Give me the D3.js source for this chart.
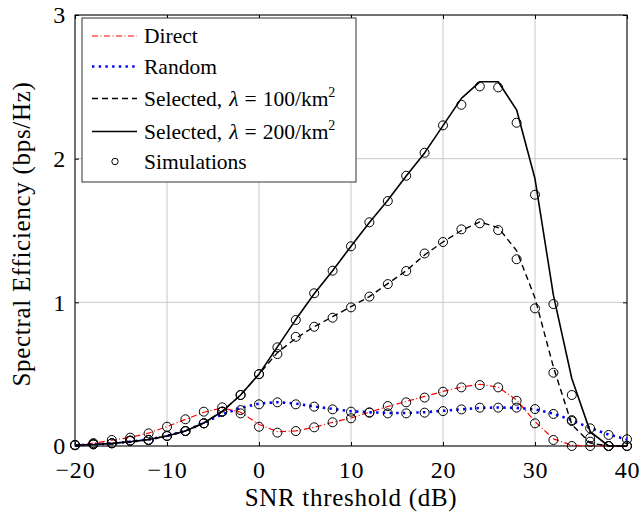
<!DOCTYPE html>
<html>
<head>
<meta charset="utf-8">
<script src="https://cdn.jsdelivr.net/npm/d3@7"></script>
<style>
  html, body { margin: 0; padding: 0; background: #fff; }
  svg { display: block; font-family: "Liberation Serif", "Times New Roman", serif; }
</style>
</head>
<body>
<svg id="chart" width="639" height="519"></svg>
<script>
// SNR threshold grid (dB)
const snr = [-20,-18,-16,-14,-12,-10,-8,-6,-4,-2,0,2,4,6,8,10,12,14,16,18,20,22,24,26,28,30,32,34,36,38,40];

// Analytical curves (bps/Hz)
const directLine = [0.005,0.02,0.04,0.06,0.09,0.135,0.185,0.235,0.265,0.235,0.15,0.1,0.105,0.13,0.165,0.195,0.235,0.275,0.31,0.345,0.38,0.41,0.43,0.41,0.32,0.17,0.05,0.005,0,0,0];
const randomLine = [0.005,0.01,0.018,0.03,0.045,0.07,0.105,0.16,0.22,0.265,0.295,0.305,0.295,0.275,0.258,0.242,0.235,0.23,0.23,0.235,0.245,0.255,0.265,0.268,0.265,0.255,0.225,0.18,0.125,0.08,0.045];
const sel100Line = [0.005,0.01,0.018,0.03,0.045,0.07,0.105,0.16,0.24,0.355,0.5,0.65,0.75,0.83,0.9,0.97,1.04,1.13,1.22,1.33,1.42,1.5,1.56,1.52,1.36,1.03,0.55,0.15,0.02,0,0];
const sel200Line = [0.005,0.01,0.018,0.03,0.045,0.07,0.105,0.16,0.24,0.355,0.5,0.69,0.88,1.06,1.22,1.39,1.555,1.71,1.88,2.04,2.23,2.42,2.535,2.535,2.34,1.86,1.05,0.47,0.1,0,0];

// Simulated points (bps/Hz)
const directSim = [0.005,0.02,0.042,0.058,0.088,0.134,0.186,0.239,0.269,0.227,0.134,0.093,0.104,0.13,0.165,0.193,0.234,0.278,0.304,0.337,0.378,0.408,0.424,0.408,0.315,0.158,0.042,0,0,0,0];
const randomSim = [0.007,0.012,0.019,0.037,0.042,0.07,0.104,0.158,0.239,0.25,0.29,0.304,0.29,0.274,0.255,0.239,0.232,0.227,0.227,0.232,0.243,0.255,0.267,0.267,0.267,0.257,0.223,0.174,0.123,0.077,0.047];
const sel100Sim = [0.007,0.012,0.019,0.037,0.042,0.07,0.104,0.158,0.239,0.355,0.5,0.64,0.76,0.83,0.893,0.965,1.04,1.127,1.218,1.34,1.42,1.508,1.55,1.503,1.3,0.958,0.51,0.18,0.03,0,0];
const sel200Sim = [0.007,0.012,0.019,0.037,0.042,0.07,0.104,0.158,0.239,0.355,0.5,0.687,0.877,1.063,1.22,1.39,1.557,1.705,1.881,2.041,2.232,2.375,2.503,2.496,2.25,1.749,0.988,0.355,0.056,0,0];

const xTicks = [-20,-10,0,10,20,30,40];
const yTicks = [0,1,2,3];

const svg = d3.select("#chart");
const plotL = 75, plotR = 627, plotT = 15, plotB = 446;

const x = d3.scaleLinear().domain([-20, 40]).range([plotL, plotR]);
const y = d3.scaleLinear().domain([0, 3]).range([plotB, plotT]);

// grid
const grid = svg.append("g").attr("stroke", "#c8c8c8").attr("stroke-width", 1);
xTicks.forEach(t => grid.append("line").attr("x1", x(t)).attr("x2", x(t)).attr("y1", plotT).attr("y2", plotB));
yTicks.forEach(t => grid.append("line").attr("x1", plotL).attr("x2", plotR).attr("y1", y(t)).attr("y2", y(t)));

// axes with inward ticks
const fmt = d3.format("d");
const xAxis = svg.append("g").attr("transform", `translate(0,${plotB})`)
  .call(d3.axisBottom(x).tickValues(xTicks).tickFormat(fmt).tickSizeInner(-4).tickSizeOuter(0).tickPadding(15));
const xAxisTop = svg.append("g").attr("transform", `translate(0,${plotT})`)
  .call(d3.axisTop(x).tickValues(xTicks).tickFormat("").tickSizeInner(-4).tickSizeOuter(0));
const yAxis = svg.append("g").attr("transform", `translate(${plotL},0)`)
  .call(d3.axisLeft(y).tickValues(yTicks).tickFormat(fmt).tickSizeInner(-4).tickSizeOuter(0).tickPadding(9));
const yAxisRight = svg.append("g").attr("transform", `translate(${plotR},0)`)
  .call(d3.axisRight(y).tickValues(yTicks).tickFormat("").tickSizeInner(-4).tickSizeOuter(0));
[xAxis, xAxisTop, yAxis, yAxisRight].forEach(g => {
  g.select(".domain").remove();
  g.selectAll("line").attr("stroke", "#000");
  g.selectAll("text").attr("font-family", "Liberation Serif").attr("font-size", 24).attr("fill", "#000")
    .attr("letter-spacing", 0.8);
});
xAxis.selectAll("text").attr("dy", "0.71em");

// frame
svg.append("rect").attr("x", plotL).attr("y", plotT).attr("width", plotR - plotL).attr("height", plotB - plotT)
  .attr("fill", "none").attr("stroke", "#000").attr("stroke-width", 1);

// axis titles
svg.append("text").attr("x", (plotL + plotR) / 2).attr("y", 506).attr("text-anchor", "middle")
  .attr("font-size", 25).attr("letter-spacing", 0.7).text("SNR threshold (dB)");
svg.append("text").attr("transform", `translate(30,234) rotate(-90)`).attr("text-anchor", "middle")
  .attr("font-size", 25).attr("letter-spacing", 0.7).text("Spectral Efficiency (bps/Hz)");

// curves
const line = d3.line().x((d, i) => x(snr[i])).y(d => y(d));
const styles = {
  direct: { color: "#ff0000", width: 1.2, dash: "6,2.5,1,2.5", cap: "butt" },
  random: { color: "#0000ff", width: 2.6, dash: "2.4,4.3", cap: "butt" },
  sel100: { color: "#000", width: 1.4, dash: "6,4", cap: "butt" },
  sel200: { color: "#000", width: 1.6, dash: null, cap: "butt" }
};
function drawCurve(data, s) {
  const p = svg.append("path").datum(data).attr("d", line).attr("fill", "none")
    .attr("stroke", s.color).attr("stroke-width", s.width).attr("stroke-linejoin", "round")
    .attr("stroke-linecap", s.cap);
  if (s.dash) p.attr("stroke-dasharray", s.dash);
}
drawCurve(directLine, styles.direct);
drawCurve(randomLine, styles.random);
drawCurve(sel100Line, styles.sel100);
drawCurve(sel200Line, styles.sel200);

// simulation markers
const simGroup = svg.append("g").attr("fill", "none").attr("stroke", "#000").attr("stroke-width", 1);
[directSim, randomSim, sel100Sim, sel200Sim].forEach(series => {
  simGroup.selectAll(null).data(series).enter().append("circle")
    .attr("cx", (d, i) => x(snr[i])).attr("cy", d => y(d)).attr("r", 4.5);
});

// legend
const lg = svg.append("g");
lg.append("rect").attr("x", 82).attr("y", 18).attr("width", 274).attr("height", 164)
  .attr("fill", "#fff").attr("stroke", "#333").attr("stroke-width", 1);
const legendRows = [
  { y: 36, style: styles.direct, label: "Direct" },
  { y: 66.5, style: styles.random, label: "Random" },
  { y: 98.5, style: styles.sel100, label: "Selected,", lam: "100" },
  { y: 131.5, style: styles.sel200, label: "Selected,", lam: "200" },
  { y: 161.5, style: null, label: "Simulations" }
];
legendRows.forEach(r => {
  if (r.style) {
    const l = lg.append("line").attr("x1", 92).attr("x2", 137).attr("y1", r.y).attr("y2", r.y)
      .attr("stroke", r.style.color).attr("stroke-width", r.style.width).attr("stroke-linecap", r.style.cap);
    if (r.style.dash) l.attr("stroke-dasharray", r.style.dash);
  } else {
    lg.append("circle").attr("cx", 115).attr("cy", r.y).attr("r", 3.2)
      .attr("fill", "none").attr("stroke", "#000").attr("stroke-width", 1);
  }
  const t = lg.append("text").attr("x", 144).attr("y", r.y + 7).attr("font-size", 21.5).text(r.label);
  if (r.lam) {
    t.append("tspan").attr("dx", 7).attr("font-style", "italic").text("λ");
    t.append("tspan").attr("dx", 6).text("=");
    t.append("tspan").attr("dx", 6).text(`${r.lam}/km`);
    t.append("tspan").attr("dy", -9).attr("font-size", 14).text("2");
  }
});
</script>
</body>
</html>
